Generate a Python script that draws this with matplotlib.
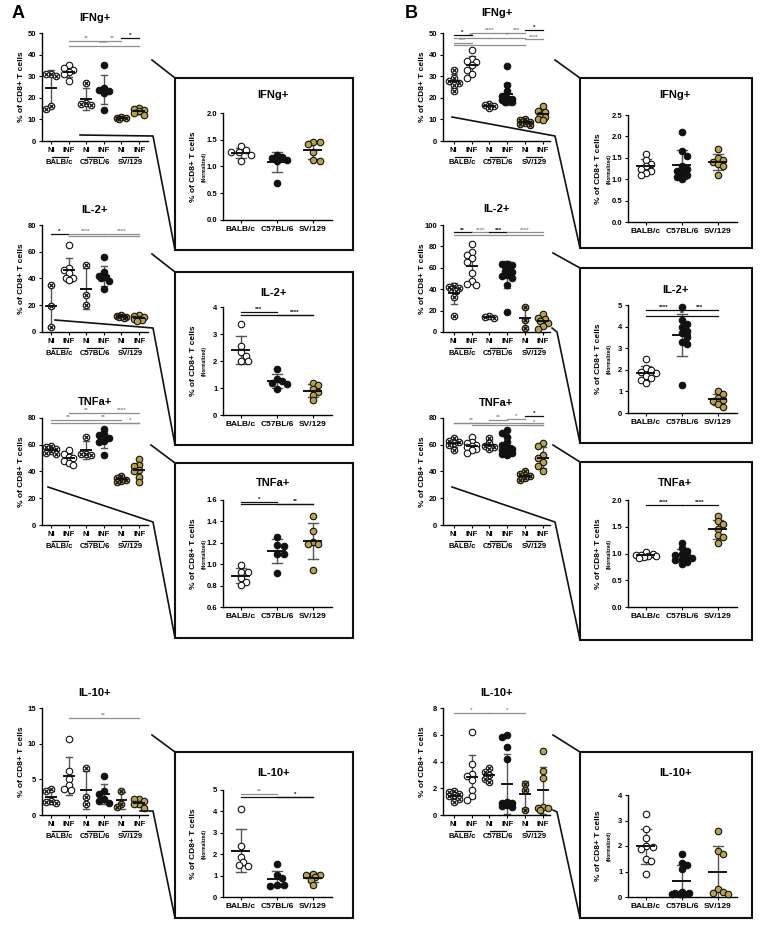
import numpy as np
import matplotlib
matplotlib.use("Agg")
import matplotlib.pyplot as plt
from matplotlib.lines import Line2D
from matplotlib.patches import Rectangle
from matplotlib.transforms import offset_copy

plt.rcParams['font.family'] = ['Liberation Sans', 'DejaVu Sans']
plt.rcParams['font.weight'] = 'bold'

W, H = 760, 930
GOLD = "#b9a24c"
GREY = "#8e8e8e"
INK = "#111111"
ERR = "#555555"

STRAINS = ["BALB/c", "C57BL/6", "SV/129"]
CONDS = ["NI", "INF"]

# ---- panel A, % of CD8+ T cells; groups: BALB NI, BALB INF, C57 NI, C57 INF, SV NI, SV INF
A_IFNG = [[31, 31, 30, 16, 15], [35, 34, 33, 32, 31, 28], [27, 17.5, 17, 16.5],
          [35, 24.5, 23.5, 23, 22, 14.5], [11, 10.5, 10.5, 10], [15.5, 15, 14.5, 14, 13, 12]]
A_IL2 = [[35, 19.5, 3.5], [65, 48, 46, 44, 40.5, 40, 39], [50, 27.5, 20],
         [56, 45, 42, 41, 40, 38, 32], [13, 12, 11.5, 11, 10.5], [13, 12, 11, 10, 9.5, 9, 8]]
A_TNFA = [[59, 58, 57, 55, 54, 53], [56, 53, 51, 50, 48, 46, 45], [66, 53, 53, 52],
          [72, 68, 67, 65, 63, 62, 52], [37, 35, 34, 33, 32.5], [49, 45, 44, 41, 40, 36, 32]]
A_IL10 = [[3.7, 3.3, 2.0, 1.8, 1.7], [10.6, 6.1, 5.0, 4.2, 3.7, 3.5], [6.6, 2.5, 1.6],
          [5.5, 3.3, 3.0, 2.2, 1.9, 1.7], [3.4, 1.6, 1.1], [2.3, 2.2, 1.9, 1.6, 1.5, 1.0]]

# significance bars: (group from, group to, level, stars, black?)
A_IFNG_SIG = [(2, 4, 46.5, "**", 0), (4, 5, 46.5, "**", 0), (5, 6, 47.8, "*", 1), (2, 6, 43.8, "****", 0)]
A_IL2_SIG = [(1, 2, 73.5, "*", 1), (2, 4, 73.5, "****", 0), (4, 6, 73.5, "****", 0), (2, 6, 72, "", 0)]
A_TNFA_SIG = [(2, 4, 83.5, "**", 0), (4, 6, 83.5, "****", 0), (1, 3, 78.5, "**", 0),
              (3, 5, 78.5, "**", 0), (1, 6, 76, "", 0), (5, 6, 76, "*", 0)]
A_IL10_SIG = [(2, 6, 13.6, "**", 0)]

# ---- panel B
B_IFNG = [[33, 29, 28, 27, 26, 23], [42, 38, 37, 36.5, 35, 33, 31, 29], [17, 16.5, 16, 15.5],
          [34.5, 26, 23, 21, 20, 19.5, 19, 18.5, 18, 18], [10, 9.5, 9, 8.5, 8, 7.5],
          [16, 14, 13.5, 12, 11, 10, 9.5]]
B_IL2 = [[43, 42, 41, 40, 38, 33, 15], [82, 75, 72, 69, 65, 55, 48, 45, 44], [15, 14, 13.5],
         [64, 64, 63, 62, 61, 57, 56, 53, 52, 50, 44, 18.5], [23, 11, 4], [17, 13, 12, 10, 8, 6, 3]]
B_TNFA = [[65, 63, 62, 61.5, 60, 56], [66, 62, 61, 60, 59, 58, 57, 56, 54], [65, 61, 59, 58, 57],
          [71, 69, 66, 62, 60, 58, 57, 56, 55, 54, 53, 52], [40, 38, 37, 35, 34],
          [61, 59, 52, 50, 47, 44, 40]]
B_IL10 = [[1.8, 1.7, 1.6, 1.5, 1.4, 1.2, 1.0], [6.2, 3.8, 3.1, 2.9, 2.6, 1.9, 1.4, 1.1],
          [3.5, 3.2, 3.0, 2.7, 2.5], [6.0, 5.8, 5.1, 4.2, 1.0, 0.9, 0.9, 0.85, 0.8, 0.75, 0.7, 0.6],
          [2.3, 1.9, 0.4], [4.8, 3.3, 2.8, 0.6, 0.5, 0.5, 0.4]]

B_IFNG_SIG = [(1, 2, 49.3, "*", 1), (2, 4, 50, "****", 0), (4, 5, 50, "***", 0), (5, 6, 51.2, "*", 1),
              (1, 3, 47.5, "**", 0), (3, 5, 47.5, "*", 0), (5, 6, 47, "****", 0),
              (1, 2, 45.5, "***", 0), (1, 5, 44.3, "", 0)]
B_IL2_SIG = [(1, 2, 93, "**", 1), (2, 3, 93, "****", 0), (3, 4, 93, "***", 1), (4, 6, 93, "****", 0),
             (1, 6, 91, "", 0)]
B_TNFA_SIG = [(5, 6, 81.5, "*", 1), (4, 5, 79.5, "*", 0), (3, 4, 78.5, "**", 0),
              (1, 3, 76.5, "**", 0), (1, 6, 76.5, "", 0), (2, 6, 74.5, "", 0), (5, 6, 74.5, "*", 0)]
B_IL10_SIG = [(1, 3, 7.6, "*", 0), (3, 5, 7.6, "*", 0)]

# ---- normalized insets; groups: BALB/c, C57BL/6, SV/129
A_IFNG_N = [[1.38, 1.30, 1.28, 1.27, 1.22, 1.10], [1.21, 1.17, 1.16, 1.12, 1.10, 0.70],
            [1.46, 1.45, 1.42, 1.28, 1.12, 1.10]]
A_IL2_N = [[3.37, 2.55, 2.35, 2.2, 2.0, 2.0], [1.70, 1.35, 1.25, 1.20, 1.15, 0.95],
           [1.2, 1.1, 0.95, 0.85, 0.75, 0.55]]
A_TNFA_N = [[0.99, 0.93, 0.93, 0.87, 0.83, 0.81], [1.25, 1.18, 1.17, 1.10, 1.10, 0.92],
            [1.45, 1.31, 1.21, 1.19, 1.19, 0.95]]
A_IL10_N = [[4.1, 2.37, 1.87, 1.65, 1.5, 1.45], [1.52, 1.03, 0.88, 0.57, 0.55, 0.50],
            [1.07, 1.05, 1.03, 0.95, 0.78, 0.55]]
B_IFNG_N = [[1.6, 1.45, 1.35, 1.3, 1.25, 1.2, 1.15, 1.1],
            [2.1, 1.65, 1.55, 1.3, 1.25, 1.2, 1.15, 1.1, 1.05, 1.0],
            [1.7, 1.5, 1.45, 1.4, 1.35, 1.3, 1.1]]
B_IL2_N = [[2.5, 2.1, 2.0, 1.9, 1.85, 1.7, 1.6, 1.55, 1.4],
           [4.9, 4.3, 4.1, 4.0, 3.8, 3.7, 3.5, 3.3, 3.2, 1.3],
           [1.0, 0.9, 0.7, 0.6, 0.55, 0.4, 0.3]]
B_TNFA_N = [[1.02, 1.0, 0.98, 0.97, 0.96, 0.95, 0.93, 0.92],
            [1.2, 1.1, 1.05, 1.0, 0.98, 0.95, 0.92, 0.9, 0.88, 0.85, 0.8],
            [1.7, 1.6, 1.55, 1.45, 1.35, 1.3, 1.2]]
B_IL10_N = [[3.25, 2.65, 2.3, 2.0, 1.95, 1.9, 1.5, 1.4, 0.9],
            [1.7, 1.35, 1.25, 1.1, 0.2, 0.15, 0.1, 0.1, 0.1, 0.15],
            [2.6, 1.8, 1.7, 0.3, 0.2, 0.15, 0.1]]

A_IL2_N_SIG = [(1, 2, 3.8, "***", 1), (2, 3, 3.72, "****", 1), (1, 3, 3.72, "", 1)]
A_TNFA_N_SIG = [(1, 2, 1.585, "*", 1), (2, 3, 1.56, "**", 1), (1, 3, 1.56, "", 1)]
A_IL10_N_SIG = [(1, 2, 4.8, "**", 0), (2, 3, 4.66, "*", 1), (1, 3, 4.66, "", 1)]
B_IL2_N_SIG = [(1, 2, 4.75, "****", 1), (2, 3, 4.75, "***", 1), (1, 3, 4.5, "**", 1)]
B_TNFA_N_SIG = [(1, 2, 1.9, "****", 1), (2, 3, 1.9, "****", 1)]

fig = plt.figure(figsize=(W / 100, H / 100), dpi=100)
fig.patch.set_facecolor("white")


def px_rect(x0, ytop, x1, ybot):
    return [x0 / W, 1 - ybot / H, (x1 - x0) / W, (ybot - ytop) / H]


def swarm(vals, sx, sy, d=6.0, spread=1.2):
    # simple beeswarm: nudge points sideways (in pixels) until they stop overlapping
    vals = np.asarray(vals, float)
    cands = sorted(np.arange(-spread, spread + 0.01, 0.4) * d, key=abs)
    placed, offs = [], np.zeros(len(vals))
    for i in np.argsort(-vals):
        y = vals[i] * sy
        best, best_gap = 0.0, -1
        for c in cands:
            gap = min([np.hypot(c - px, y - py) for px, py in placed], default=99)
            if gap >= 0.85 * d:
                best = c
                break
            if gap > best_gap:
                best, best_gap = c, gap
        placed.append((best, y))
        offs[i] = best / sx
    return offs


def draw_group(ax, x, vals, face, ni, sx, sy, half, cap, spread):
    offs = swarm(vals, sx, sy, spread=spread)
    ax.scatter(x + offs, vals, s=22, facecolor=face, edgecolor=INK, lw=0.8, zorder=3, clip_on=False)
    if ni:
        ax.scatter(x + offs, vals, s=8, marker="x", color=INK, lw=0.9, zorder=4, clip_on=False)
    m, sd = np.mean(vals), np.std(vals, ddof=1)
    ax.plot([x, x], [m - sd, m + sd], color=ERR, lw=1, zorder=2)
    for e in (m - sd, m + sd):
        ax.plot([x - cap, x + cap], [e, e], color=ERR, lw=1, zorder=2)
    ax.plot([x - half, x + half], [m, m], color=INK, lw=1.4, zorder=5)


def draw_sig(ax, sig, fs=4.5):
    for i, j, y, lab, strong in sig:
        c = INK if strong else GREY
        ax.plot([i, j], [y, y], color=c, lw=0.9, clip_on=False, zorder=6)
        if lab:
            ax.text((i + j) / 2, y, lab, ha="center", va="bottom", fontsize=fs, color=c, clip_on=False)


def style(ax):
    for s in ("top", "right"):
        ax.spines[s].set_visible(False)
    for s in ("left", "bottom"):
        ax.spines[s].set_linewidth(1.0)
    ax.tick_params(length=2.5, width=0.8, labelsize=5.5, pad=1.5)
    ax.set_facecolor("none")


def small_plot(name, groups, sig, ymax, ystep, x0, x1, xlim, top, zero, title_y):
    ax = fig.add_axes(px_rect(x0, top, x1, zero))
    ax.set_xlim(*xlim)
    ax.set_ylim(0, ymax)
    sx = (x1 - x0) / (xlim[1] - xlim[0])
    sy = (zero - top) / ymax
    faces = ["white", "white", "white", INK, GOLD, GOLD]
    for k, vals in enumerate(groups):
        draw_group(ax, k + 1, vals, faces[k], k % 2 == 0, sx, sy, 5 / sx, 3 / sx, 0.8)
    draw_sig(ax, sig)
    style(ax)
    ax.set_yticks(np.arange(0, ymax + 0.01, ystep))
    ax.set_xticks(range(1, 7))
    ax.set_xticklabels(CONDS * 3, fontsize=5.5)
    ax.text(-0.19, 0.5, "% of CD8+ T cells", transform=ax.transAxes, rotation=90,
            ha="center", va="center", fontsize=6)
    fig.text((x0 + x1) / 2 / W, 1 - title_y / H, name, ha="center", va="center", fontsize=8)
    under = offset_copy(ax.get_xaxis_transform(), fig=fig, y=-16 * 0.72, units="points")
    lab = offset_copy(ax.get_xaxis_transform(), fig=fig, y=-21.5 * 0.72, units="points")
    for k, st in enumerate(STRAINS):
        c = 2 * k + 1.5
        ax.plot([c - 0.45, c + 0.45], [0, 0], color=INK, lw=0.9, transform=under, clip_on=False)
        ax.text(c, 0, st, transform=lab, ha="center", va="center", fontsize=5.5)
    return ax


def inset_plot(name, groups, sig, ylim, yticks, fmt, box, axx, top, zero, title_y):
    bx0, by0, bx1, by1 = box
    fig.add_artist(Rectangle((bx0 / W, 1 - by1 / H), (bx1 - bx0) / W, (by1 - by0) / H,
                             transform=fig.transFigure, fill=False, lw=1.5, ec=INK))
    ax = fig.add_axes(px_rect(axx[0], top, axx[1], zero))
    xlim = (0.5, 3.53)
    ax.set_xlim(*xlim)
    ax.set_ylim(*ylim)
    sx = (axx[1] - axx[0]) / (xlim[1] - xlim[0])
    sy = (zero - top) / (ylim[1] - ylim[0])
    faces = ["white", INK, GOLD]
    for k, vals in enumerate(groups):
        draw_group(ax, k + 1, vals, faces[k], False, sx, sy, 8.5 / sx, 5 / sx, 1.6)
    draw_sig(ax, sig)
    style(ax)
    ax.set_yticks(yticks)
    ax.set_yticklabels([fmt.format(t) for t in yticks])
    ax.set_xticks([1, 2, 3])
    ax.set_xticklabels(STRAINS, fontsize=6)
    ax.text(-0.27, 0.5, "% of CD8+ T cells", transform=ax.transAxes, rotation=90,
            ha="center", va="center", fontsize=6)
    ax.text(-0.175, 0.5, "(Normalized)", transform=ax.transAxes, rotation=90,
            ha="center", va="center", fontsize=3.5)
    fig.text((bx0 + bx1) / 2 / W + 0.012, 1 - title_y / H, name, ha="center", va="center", fontsize=8)


def zoom_lines(pts):
    xs = [p[0] / W for p in pts]
    ys = [1 - p[1] / H for p in pts]
    fig.add_artist(Line2D(xs, ys, transform=fig.transFigure, color=INK, lw=1.2))


NAMES = ["IFNg+", "IL-2+", "TNFa+", "IL-10+"]
ROWS = [(33, 141, 18), (225, 332, 210), (418, 525, 402), (708, 815, 693)]
B_TITLE_Y = [13, 209, 403, 693]

A_SETS = [(A_IFNG, A_IFNG_SIG, 50, 10), (A_IL2, A_IL2_SIG, 80, 20),
          (A_TNFA, A_TNFA_SIG, 80, 20), (A_IL10, A_IL10_SIG, 15, 5)]
B_SETS = [(B_IFNG, B_IFNG_SIG, 50, 10), (B_IL2, B_IL2_SIG, 100, 20),
          (B_TNFA, B_TNFA_SIG, 80, 20), (B_IL10, B_IL10_SIG, 8, 2)]

for r, name in enumerate(NAMES):
    top, zero, ty = ROWS[r]
    g, s, ym, st = A_SETS[r]
    small_plot(name, g, s, ym, st, 42, 148, (0.5, 6.5), top, zero, ty)
    g, s, ym, st = B_SETS[r]
    small_plot(name, g, s, ym, st, 443, 550, (0.4, 6.4), top, zero, B_TITLE_Y[r])

# insets panel A
inset_plot("IFNg+", A_IFNG_N, [], (0, 2.0), np.arange(0, 2.01, 0.5), "{:.1f}",
           (175, 78, 353, 250), (223, 332), 113, 220, 95)
inset_plot("IL-2+", A_IL2_N, A_IL2_N_SIG, (0, 4), [0, 1, 2, 3, 4], "{:.0f}",
           (175, 272, 353, 445), (223, 332), 307, 415, 293)
inset_plot("TNFa+", A_TNFA_N, A_TNFA_N_SIG, (0.6, 1.6), np.arange(0.6, 1.61, 0.2), "{:.1f}",
           (175, 463, 353, 638), (223, 332), 500, 607, 483)
inset_plot("IL-10+", A_IL10_N, A_IL10_N_SIG, (0, 5), [0, 1, 2, 3, 4, 5], "{:.0f}",
           (175, 752, 353, 918), (223, 332), 790, 897, 773)
# insets panel B
inset_plot("IFNg+", B_IFNG_N, [], (0, 2.5), np.arange(0, 2.51, 0.5), "{:.1f}",
           (580, 78, 752, 248), (628, 737), 115, 222, 95)
inset_plot("IL-2+", B_IL2_N, B_IL2_N_SIG, (0, 5), [0, 1, 2, 3, 4, 5], "{:.0f}",
           (580, 268, 752, 443), (628, 737), 305, 413, 290)
inset_plot("TNFa+", B_TNFA_N, B_TNFA_N_SIG, (0, 2.0), np.arange(0, 2.01, 0.5), "{:.1f}",
           (580, 462, 752, 640), (628, 737), 500, 607, 483)
inset_plot("IL-10+", B_IL10_N, [], (0, 4), [0, 1, 2, 3, 4], "{:.0f}",
           (580, 752, 752, 918), (628, 737), 795, 897, 773)

# connector lines from the raw plots to the insets
for pts in [[(152, 60), (175, 78)], [(80, 135), (153, 136), (175, 250)],
            [(152, 254), (175, 272)], [(55, 320), (153, 328), (175, 445)],
            [(151, 445), (175, 463)], [(48, 487), (153, 522), (175, 638)],
            [(152, 735), (175, 752)], [(140, 811), (153, 811), (175, 918)],
            [(555, 60), (580, 78)], [(452, 117), (555, 136), (580, 248)],
            [(553, 253), (580, 268)], [(552, 328), (557, 332), (580, 443)],
            [(553, 445), (580, 462)], [(452, 487), (555, 522), (580, 640)],
            [(553, 735), (580, 752)], [(553, 810), (557, 812), (580, 918)]]:
    zoom_lines(pts)

fig.text(12 / W, 1 - 14 / H, "A", fontsize=13, ha="left", va="center")
fig.text(405 / W, 1 - 14 / H, "B", fontsize=13, ha="left", va="center")

fig.savefig("out.png", dpi=100, facecolor="white")
